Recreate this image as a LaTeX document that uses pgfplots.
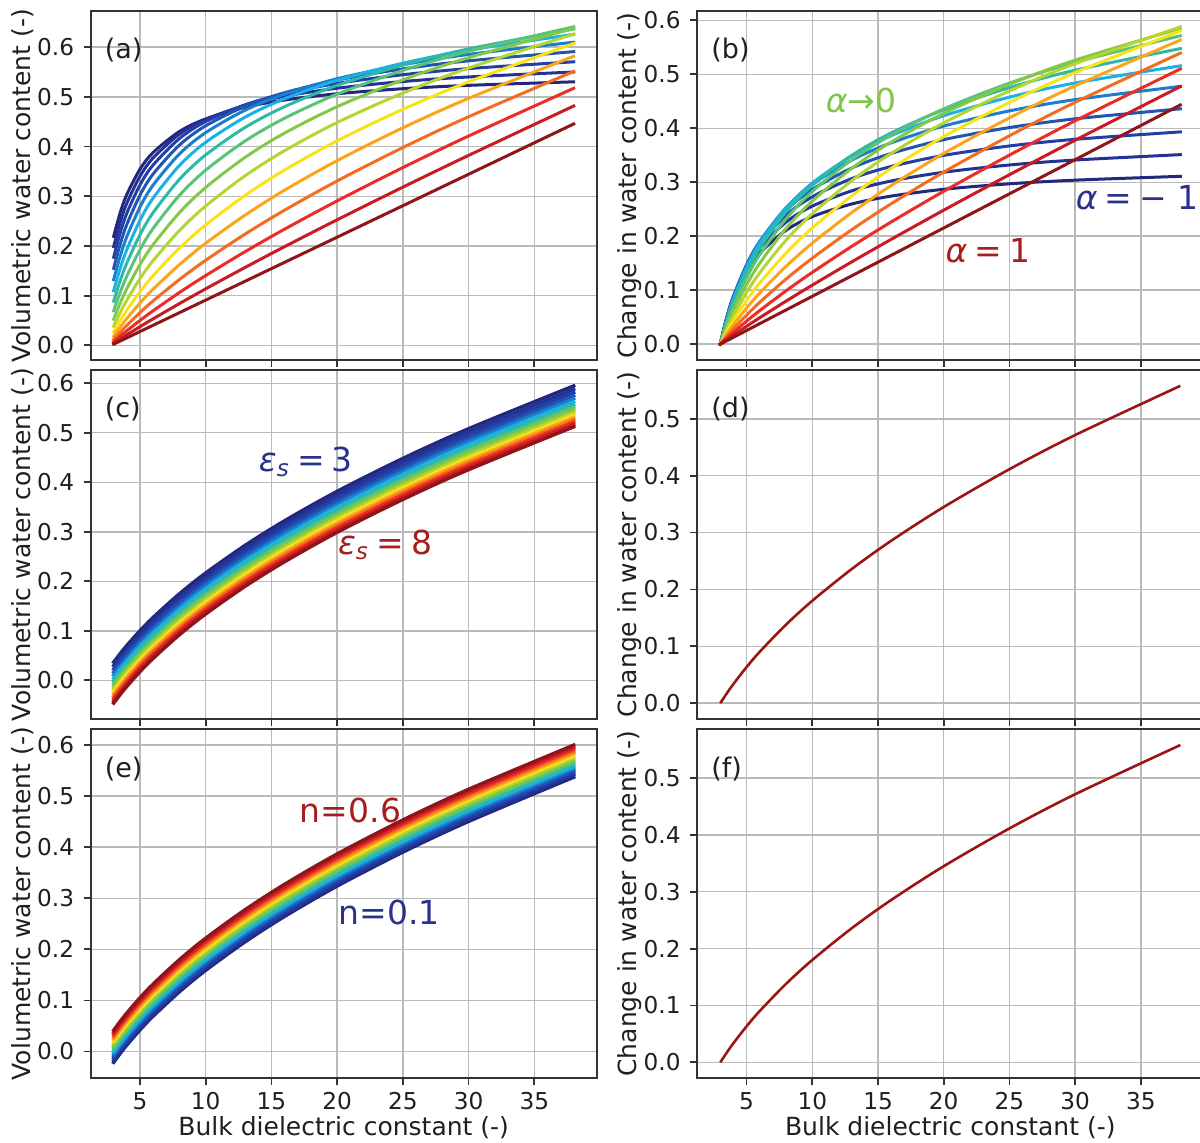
\documentclass[border=0pt]{standalone}
\usepackage{pgfplots}
\pgfplotsset{compat=1.18}
\usepackage{pgfplotstable}
\usepackage{fontspec}
\setmainfont{DejaVu Sans}
\newcommand\fs[1]{\fontsize{#1}{#1}\selectfont}

\definecolor{C0}{RGB}{33,40,125}
\definecolor{C1}{RGB}{34,50,150}
\definecolor{C2}{RGB}{35,62,165}
\definecolor{C3}{RGB}{33,85,180}
\definecolor{C4}{RGB}{28,125,205}
\definecolor{C5}{RGB}{25,178,232}
\definecolor{C6}{RGB}{45,185,165}
\definecolor{C7}{RGB}{90,195,120}
\definecolor{C8}{RGB}{132,200,72}
\definecolor{C9}{RGB}{182,212,50}
\definecolor{C10}{RGB}{250,226,25}
\definecolor{C11}{RGB}{250,165,28}
\definecolor{C12}{RGB}{243,108,33}
\definecolor{C13}{RGB}{236,45,38}
\definecolor{C14}{RGB}{200,28,34}
\definecolor{C15}{RGB}{142,22,26}
\definecolor{single}{RGB}{155,20,22}
\definecolor{navytxt}{RGB}{40,50,140}
\definecolor{redtxt}{RGB}{165,29,29}
\definecolor{greentxt}{RGB}{128,198,72}

% (a) volumetric water content, alpha = -1 ... 1 (16 curves)
\pgfplotstableread{
x a0 a1 a2 a3 a4 a5 a6 a7 a8 a9 a10 a11 a12 a13 a14 a15
3 0.21941 0.19900 0.17743 0.15507 0.13244 0.11019 0.08904 0.06970 0.05274 0.03853 0.02714 0.01842 0.01203 0.00754 0.00450 0.00253
3.5 0.26763 0.24837 0.22719 0.20432 0.18019 0.15541 0.13079 0.10721 0.08550 0.06634 0.05012 0.03693 0.02659 0.01876 0.01300 0.00886
4 0.30380 0.28611 0.26597 0.24345 0.21886 0.19275 0.16593 0.13939 0.11415 0.09114 0.07101 0.05408 0.04035 0.02956 0.02133 0.01519
5 0.35443 0.34021 0.32287 0.30223 0.27834 0.25155 0.22260 0.19253 0.16260 0.13409 0.10805 0.08523 0.06593 0.05015 0.03760 0.02785
6 0.38819 0.37727 0.36293 0.34475 0.32255 0.29646 0.26706 0.23537 0.20273 0.17063 0.14043 0.11320 0.08954 0.06966 0.05344 0.04051
8 0.43038 0.42505 0.41619 0.40307 0.38508 0.36198 0.33400 0.30190 0.26704 0.23107 0.19570 0.16247 0.13246 0.10628 0.08412 0.06582
10 0.45570 0.45471 0.45042 0.44185 0.42813 0.40866 0.38333 0.35265 0.31778 0.28040 0.24237 0.20551 0.17124 0.14051 0.11379 0.09114
13 0.47907 0.48300 0.48412 0.48128 0.47332 0.45927 0.43859 0.41134 0.37842 0.34129 0.30188 0.26220 0.22400 0.18862 0.15687 0.12911
16 0.49367 0.50124 0.50655 0.50837 0.50537 0.49631 0.48031 0.45709 0.42716 0.39180 0.35281 0.31225 0.27207 0.23383 0.19863 0.16709
20 0.50633 0.51751 0.52714 0.53396 0.53652 0.53335 0.52325 0.50552 0.48030 0.44846 0.41161 0.37174 0.33085 0.29073 0.25272 0.21772
25 0.51646 0.53092 0.54462 0.55634 0.56459 0.56774 0.56432 0.55328 0.53425 0.50772 0.47496 0.43775 0.39806 0.35776 0.31837 0.28101
30 0.52321 0.54010 0.55693 0.57253 0.58544 0.59400 0.59655 0.59175 0.57894 0.55813 0.53033 0.49703 0.46006 0.42127 0.38227 0.34430
38 0.53031 0.55004 0.57062 0.59105 0.60998 0.62576 0.63662 0.64095 0.63765 0.62630 0.60732 0.58179 0.55123 0.51733 0.48167 0.44557
}\dataA

% (b) change in water content, alpha = -1 ... 1
\pgfplotstableread{
x a0 a1 a2 a3 a4 a5 a6 a7 a8 a9 a10 a11 a12 a13 a14 a15
3 0 0 0 0 0 0 0 0 0 0 0 0 0 0 0 0
3.5 0.04822 0.04937 0.04976 0.04925 0.04775 0.04522 0.04175 0.03751 0.03276 0.02781 0.02298 0.01851 0.01456 0.01122 0.00849 0.00633
4 0.08439 0.08711 0.08854 0.08838 0.08642 0.08256 0.07689 0.06969 0.06141 0.05261 0.04387 0.03565 0.02832 0.02203 0.01683 0.01266
5 0.13502 0.14121 0.14545 0.14717 0.14590 0.14137 0.13356 0.12284 0.10986 0.09556 0.08091 0.06680 0.05390 0.04262 0.03310 0.02532
6 0.16878 0.17827 0.18550 0.18969 0.19011 0.18627 0.17802 0.16567 0.14999 0.13210 0.11329 0.09477 0.07751 0.06213 0.04894 0.03797
8 0.21097 0.22605 0.23876 0.24800 0.25264 0.25180 0.24496 0.23220 0.21430 0.19254 0.16856 0.14405 0.12043 0.09875 0.07962 0.06329
10 0.23629 0.25571 0.27299 0.28678 0.29569 0.29847 0.29429 0.28295 0.26504 0.24187 0.21524 0.18709 0.15921 0.13298 0.10929 0.08861
13 0.25966 0.28400 0.30669 0.32621 0.34089 0.34909 0.34955 0.34165 0.32568 0.30276 0.27474 0.24378 0.21197 0.18108 0.15237 0.12658
16 0.27426 0.30224 0.32912 0.35330 0.37293 0.38612 0.39127 0.38740 0.37442 0.35327 0.32567 0.29383 0.26004 0.22629 0.19413 0.16456
20 0.28692 0.31851 0.34971 0.37889 0.40408 0.42317 0.43422 0.43583 0.42756 0.40994 0.38447 0.35331 0.31882 0.28320 0.24822 0.21519
25 0.29705 0.33192 0.36719 0.40127 0.43215 0.45756 0.47529 0.48358 0.48151 0.46919 0.44782 0.41932 0.38603 0.35022 0.31386 0.27848
30 0.30380 0.34110 0.37950 0.41746 0.45301 0.48382 0.50751 0.52206 0.52620 0.51960 0.50319 0.47860 0.44803 0.41374 0.37776 0.34177
38 0.31090 0.35105 0.39319 0.43598 0.47754 0.51557 0.54758 0.57126 0.58491 0.58777 0.58018 0.56336 0.53920 0.50980 0.47717 0.44304
}\dataB

% (c) eps_s = 3 ... 8 (16 curves)
\pgfplotstableread{
x a0 a1 a2 a3 a4 a5 a6 a7 a8 a9 a10 a11 a12 a13 a14 a15
3 0.03686 0.02979 0.02306 0.01663 0.01046 0.00452 -0.00120 -0.00674 -0.01211 -0.01732 -0.02239 -0.02733 -0.03214 -0.03685 -0.04144 -0.04594
3.5 0.05432 0.04725 0.04052 0.03409 0.02792 0.02198 0.01626 0.01072 0.00535 0.00014 -0.00493 -0.00987 -0.01468 -0.01939 -0.02398 -0.02848
4 0.07058 0.06351 0.05678 0.05035 0.04418 0.03824 0.03252 0.02698 0.02161 0.01640 0.01133 0.00639 0.00158 -0.00313 -0.00772 -0.01222
5 0.10030 0.09323 0.08650 0.08007 0.07390 0.06796 0.06224 0.05670 0.05133 0.04612 0.04105 0.03611 0.03130 0.02659 0.02200 0.01750
6 0.12716 0.12009 0.11336 0.10693 0.10076 0.09482 0.08910 0.08356 0.07819 0.07298 0.06791 0.06297 0.05816 0.05345 0.04886 0.04436
8 0.17486 0.16779 0.16106 0.15463 0.14846 0.14252 0.13680 0.13126 0.12589 0.12068 0.11561 0.11067 0.10586 0.10115 0.09656 0.09206
10 0.21689 0.20982 0.20309 0.19666 0.19049 0.18455 0.17883 0.17329 0.16792 0.16271 0.15764 0.15270 0.14789 0.14318 0.13859 0.13409
13 0.27269 0.26562 0.25889 0.25246 0.24629 0.24035 0.23463 0.22909 0.22372 0.21851 0.21344 0.20850 0.20369 0.19898 0.19439 0.18989
16 0.32234 0.31527 0.30854 0.30211 0.29594 0.29000 0.28428 0.27874 0.27337 0.26816 0.26309 0.25815 0.25334 0.24863 0.24404 0.23954
20 0.38177 0.37470 0.36797 0.36154 0.35537 0.34943 0.34371 0.33817 0.33280 0.32759 0.32252 0.31758 0.31277 0.30806 0.30347 0.29897
25 0.44821 0.44114 0.43441 0.42798 0.42181 0.41587 0.41015 0.40461 0.39924 0.39403 0.38896 0.38402 0.37921 0.37450 0.36991 0.36541
30 0.50829 0.50122 0.49449 0.48806 0.48189 0.47595 0.47023 0.46469 0.45932 0.45411 0.44904 0.44410 0.43929 0.43458 0.42999 0.42549
38 0.59479 0.58772 0.58099 0.57456 0.56839 0.56245 0.55673 0.55119 0.54582 0.54061 0.53554 0.53060 0.52579 0.52108 0.51649 0.51199
}\dataC

% (e) n = 0.1 ... 0.6 (16 curves)
\pgfplotstableread{
x a0 a1 a2 a3 a4 a5 a6 a7 a8 a9 a10 a11 a12 a13 a14 a15
3 -0.02114 -0.01694 -0.01274 -0.00855 -0.00435 -0.00016 0.00404 0.00824 0.01243 0.01663 0.02082 0.02502 0.02922 0.03341 0.03761 0.04180
3.5 -0.00368 0.00052 0.00472 0.00891 0.01311 0.01730 0.02150 0.02570 0.02989 0.03409 0.03828 0.04248 0.04668 0.05087 0.05507 0.05926
4 0.01258 0.01678 0.02098 0.02517 0.02937 0.03356 0.03776 0.04196 0.04615 0.05035 0.05454 0.05874 0.06294 0.06713 0.07133 0.07552
5 0.04230 0.04650 0.05070 0.05489 0.05909 0.06328 0.06748 0.07168 0.07587 0.08007 0.08426 0.08846 0.09266 0.09685 0.10105 0.10524
6 0.06916 0.07336 0.07756 0.08175 0.08595 0.09014 0.09434 0.09854 0.10273 0.10693 0.11112 0.11532 0.11952 0.12371 0.12791 0.13210
8 0.11686 0.12106 0.12526 0.12945 0.13365 0.13784 0.14204 0.14624 0.15043 0.15463 0.15882 0.16302 0.16722 0.17141 0.17561 0.17980
10 0.15889 0.16309 0.16729 0.17148 0.17568 0.17987 0.18407 0.18827 0.19246 0.19666 0.20085 0.20505 0.20925 0.21344 0.21764 0.22183
13 0.21469 0.21889 0.22309 0.22728 0.23148 0.23567 0.23987 0.24407 0.24826 0.25246 0.25665 0.26085 0.26505 0.26924 0.27344 0.27763
16 0.26434 0.26854 0.27274 0.27693 0.28113 0.28532 0.28952 0.29372 0.29791 0.30211 0.30630 0.31050 0.31470 0.31889 0.32309 0.32728
20 0.32377 0.32797 0.33217 0.33636 0.34056 0.34475 0.34895 0.35315 0.35734 0.36154 0.36573 0.36993 0.37413 0.37832 0.38252 0.38671
25 0.39021 0.39441 0.39861 0.40280 0.40700 0.41119 0.41539 0.41959 0.42378 0.42798 0.43217 0.43637 0.44057 0.44476 0.44896 0.45315
30 0.45029 0.45449 0.45869 0.46288 0.46708 0.47127 0.47547 0.47967 0.48386 0.48806 0.49225 0.49645 0.50065 0.50484 0.50904 0.51323
38 0.53679 0.54099 0.54519 0.54938 0.55358 0.55777 0.56197 0.56617 0.57036 0.57456 0.57875 0.58295 0.58715 0.59134 0.59554 0.59973
}\dataE

% (d) and (f) single curve
\pgfplotstableread{
x y
3 0
3.5 0.01747
4 0.03373
5 0.06344
6 0.09031
8 0.13801
10 0.18003
13 0.23583
16 0.28548
20 0.34491
25 0.41136
30 0.47143
38 0.55793
}\dataD

\pgfplotsset{
  panel/.style={
    scale only axis, width=253pt, height=174.5pt,
    xmin=1.25, xmax=39.75,
    xtick={5,10,15,20,25,30,35},
    grid=major,
    major grid style={line width=0.7pt, draw=black!27},
    axis line style={line width=0.9pt, draw=black!80},
    tick align=outside, tick pos=left,
    major tick length=3.6pt,
    tick style={line width=0.9pt, draw=black!80},
    tick label style={font=\fs{11.6}, color=black!88},
    yticklabel style={xshift=-1.2pt},
    /pgf/number format/assume math mode=true,
    yticklabel style={/pgf/number format/.cd, fixed, fixed zerofill, precision=1},
    label style={font=\fs{12.5}, color=black!88},
    ylabel style={at={(axis description cs:-0.1344,0.5)}, anchor=center},
    xlabel style={at={(axis description cs:0.5,-0.1424)}, anchor=center},
    anchor=north west,
  },
  ytsix/.style={ytick={0,0.1,0.2,0.3,0.4,0.5,0.6}},
  ytfive/.style={ytick={0,0.1,0.2,0.3,0.4,0.5}},
  nox/.style={xticklabels={}},
  curve/.style={line width=1.5pt, smooth, line cap=rect},
  band/.style={line width=1.7pt, smooth, line cap=rect},
}
\newcommand\plab[1]{\node[anchor=west, font=\fs{13.5}, text=black!88, inner sep=0pt] at (axis description cs:0.027,0.887) {(#1)};}
\newcommand\eqs{\hspace{0.22em}=\hspace{0.22em}}

\begin{document}
\begin{tikzpicture}
\useasboundingbox (0,0) rectangle (600pt,-571pt);
\clip (0,0) rectangle (600pt,-571pt);

% (a)
\begin{axis}[panel, ytsix, nox, at={(45.35pt,-5.5pt)},
  ymin=-0.0294, ymax=0.6728,
  ylabel={Volumetric water content (-)}]
\pgfplotsinvokeforeach{0,...,15}{
  \addplot[curve, C#1] table[x=x, y=a#1] {\dataA};
}
\plab{a}
\end{axis}

% (b)
\begin{axis}[panel, ytsix, nox, at={(348.65pt,-5.5pt)},
  ymin=-0.0294, ymax=0.6172,
  ylabel={Change in water content (-)}]
\pgfplotsinvokeforeach{0,...,15}{
  \addplot[curve, C#1] table[x=x, y=a#1] {\dataB};
}
\plab{b}
\node[anchor=center, font=\fs{16.5}, text=greentxt, inner sep=0pt] at (axis cs:13.72,0.452) {{\itshape α}→0};
\node[anchor=west, font=\fs{16.5}, text=navytxt, inner sep=0pt] at (axis cs:30.03,0.272) {{\itshape α}\eqs−\hspace{0.3em}1};
\node[anchor=west, font=\fs{16.5}, text=redtxt, inner sep=0pt] at (axis cs:20.12,0.174) {{\itshape α}\eqs 1};
\end{axis}

% (c)
\begin{axis}[panel, ytsix, nox, at={(45.35pt,-185pt)},
  ymin=-0.0780, ymax=0.6268,
  ylabel={Volumetric water content (-)}]
\pgfplotsinvokeforeach{0,...,15}{
  \addplot[band, C#1] table[x=x, y=a#1] {\dataC};
}
\plab{c}
\node[anchor=west, font=\fs{16.5}, text=navytxt, inner sep=0pt] at (axis cs:14.02,0.442) {{\itshape ε\textsubscript{s}}\eqs 3};
\node[anchor=west, font=\fs{16.5}, text=redtxt, inner sep=0pt] at (axis cs:20.04,0.273) {{\itshape ε\textsubscript{s}}\eqs 8};
\end{axis}

% (d)
\begin{axis}[panel, ytfive, nox, at={(348.65pt,-185pt)},
  ymin=-0.0279, ymax=0.5858,
  ylabel={Change in water content (-)}]
\addplot[line width=1.3pt, smooth, single] table[x=x, y=y] {\dataD};
\plab{d}
\end{axis}

% (e)
\begin{axis}[panel, ytsix, at={(45.35pt,-364.6pt)},
  ymin=-0.0522, ymax=0.6308,
  xlabel={Bulk dielectric constant (-)},
  ylabel={Volumetric water content (-)}]
\pgfplotsinvokeforeach{0,...,15}{
  \addplot[band, C#1] table[x=x, y=a#1] {\dataE};
}
\plab{e}
\node[anchor=west, font=\fs{16.5}, text=redtxt, inner sep=0pt] at (axis cs:17.14,0.471) {n=0.6};
\node[anchor=west, font=\fs{16.5}, text=navytxt, inner sep=0pt] at (axis cs:20.08,0.272) {n=0.1};
\end{axis}

% (f)
\begin{axis}[panel, ytfive, at={(348.65pt,-364.6pt)},
  ymin=-0.0279, ymax=0.5858,
  xlabel={Bulk dielectric constant (-)},
  ylabel={Change in water content (-)}]
\addplot[line width=1.3pt, smooth, single] table[x=x, y=y] {\dataD};
\plab{f}
\end{axis}
\end{tikzpicture}
\end{document}
